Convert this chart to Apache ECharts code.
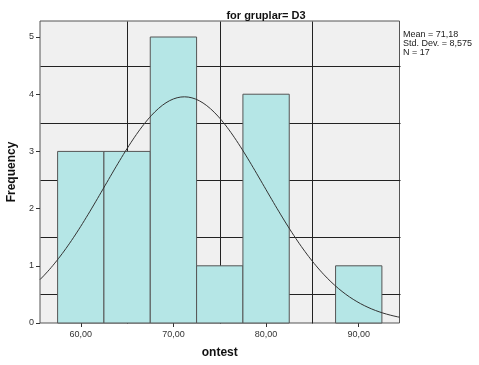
<!DOCTYPE html>
<html>
<head>
<meta charset="utf-8">
<script src="https://cdn.jsdelivr.net/npm/echarts@6/dist/echarts.min.js"></script>
<style>
  html, body { margin: 0; padding: 0; background: #ffffff; }
  #chart { width: 479px; height: 365px; }
</style>
</head>
<body>
<div id="chart"></div>
<script>
// Histogram of ontest for gruplar = D3, with a fitted normal curve
const binStarts = [57.5, 62.5, 67.5, 72.5, 77.5, 82.5, 87.5];
const frequencies = [3, 3, 5, 1, 4, 0, 1];
const binWidth = 5;
const xTickValues = [60, 70, 80, 90];
const xGridValues = [65, 75, 85];
const yGridValues = [0.5, 1.5, 2.5, 3.5, 4.5];
const statsMean = 71.18;
const statsSd = 8.575;
const statsN = 17;
const xMin = 55.6, xMax = 94.4;
const yMax = 5.28;

const histData = binStarts.map((s, i) => [s, s + binWidth, frequencies[i]]).filter(d => d[2] > 0);

// normal density scaled to counts per bin
const curveData = [];
for (let x = xMin; x <= xMax + 1e-9; x += 0.2) {
  const z = (x - statsMean) / statsSd;
  const y = statsN * binWidth / (statsSd * Math.sqrt(2 * Math.PI)) * Math.exp(-0.5 * z * z);
  curveData.push([x, y]);
}

// grid line rows: [orientation (0 = vertical, 1 = horizontal), value]
const gridLineData = xGridValues.map(v => [0, v]).concat(yGridValues.map(v => [1, v]));

const fmt = v => v.toFixed(2).replace('.', ',');
const font = '"Liberation Sans", Arial, sans-serif';

const chart = echarts.init(document.getElementById('chart'), null, { renderer: 'canvas' });
chart.setOption({
  animation: false,
  backgroundColor: '#ffffff',
  title: {
    text: 'for gruplar= D3',
    left: 261, top: 5, textAlign: 'center',
    textStyle: { fontFamily: font, fontSize: 11, fontWeight: 'bold', color: '#111' }
  },
  graphic: [{
    type: 'text', left: 403, top: 30,
    style: {
      text: 'Mean = ' + statsMean.toFixed(2).replace('.', ',') +
            '\nStd. Dev. = ' + statsSd.toFixed(3).replace('.', ',') +
            '\nN = ' + statsN,
      fontFamily: font, fontSize: 9, lineHeight: 9, fill: '#222'
    }
  }],
  grid: {
    left: 40, right: 79.5, top: 21, bottom: 42,
    containLabel: false, outerBoundsMode: 'none',
    show: true, backgroundColor: '#F0F0F0', borderColor: '#555', borderWidth: 1
  },
  xAxis: {
    type: 'value', min: xMin, max: xMax,
    name: 'ontest', nameLocation: 'middle', nameGap: 24,
    nameTextStyle: { fontFamily: font, fontSize: 12, fontWeight: 'bold', color: '#111' },
    axisLine: { show: false },
    axisTick: { show: true, length: 4, customValues: xTickValues, lineStyle: { color: '#333' } },
    axisLabel: { customValues: xTickValues, formatter: fmt, fontFamily: font, fontSize: 9, color: '#333', margin: 7 },
    splitLine: { show: false }
  },
  yAxis: {
    type: 'value', min: 0, max: yMax, interval: 1,
    name: 'Frequency', nameLocation: 'middle', nameGap: 16, nameRotate: 90,
    nameTextStyle: { fontFamily: font, fontSize: 12, fontWeight: 'bold', color: '#111' },
    axisLine: { show: false },
    axisTick: { show: true, length: 4, lineStyle: { color: '#333' } },
    axisLabel: { fontFamily: font, fontSize: 9, color: '#333', margin: 6, showMaxLabel: false },
    splitLine: { show: false }
  },
  series: [
    {
      // reference grid lines, drawn beneath the bars
      type: 'custom', z: 1, silent: true,
      data: gridLineData,
      encode: { x: 1 },
      renderItem: function (params, api) {
        const horizontal = api.value(0) === 1;
        const v = api.value(1);
        const a = horizontal ? api.coord([xMin, v]) : api.coord([v, 0]);
        const b = horizontal ? api.coord([xMax, v]) : api.coord([v, yMax]);
        return {
          type: 'line',
          shape: {
            x1: Math.round(a[0]) + 0.5, y1: Math.round(a[1]) + 0.5,
            x2: Math.round(b[0]) + 0.5, y2: Math.round(b[1]) + 0.5
          },
          style: { stroke: '#222', lineWidth: 1 }
        };
      }
    },
    {
      type: 'custom', z: 5, silent: true,
      data: histData,
      encode: { x: [0, 1], y: 2 },
      renderItem: function (params, api) {
        const p0 = api.coord([api.value(0), api.value(2)]);
        const p1 = api.coord([api.value(1), 0]);
        return {
          type: 'rect',
          shape: { x: p0[0], y: p0[1], width: p1[0] - p0[0], height: p1[1] - p0[1] },
          style: { fill: '#B5E6E6', stroke: '#555', lineWidth: 1 }
        };
      }
    },
    {
      type: 'line', z: 6, silent: true, data: curveData,
      symbol: 'none', smooth: false,
      lineStyle: { color: '#333', width: 1 }
    }
  ]
});
</script>
</body>
</html>
